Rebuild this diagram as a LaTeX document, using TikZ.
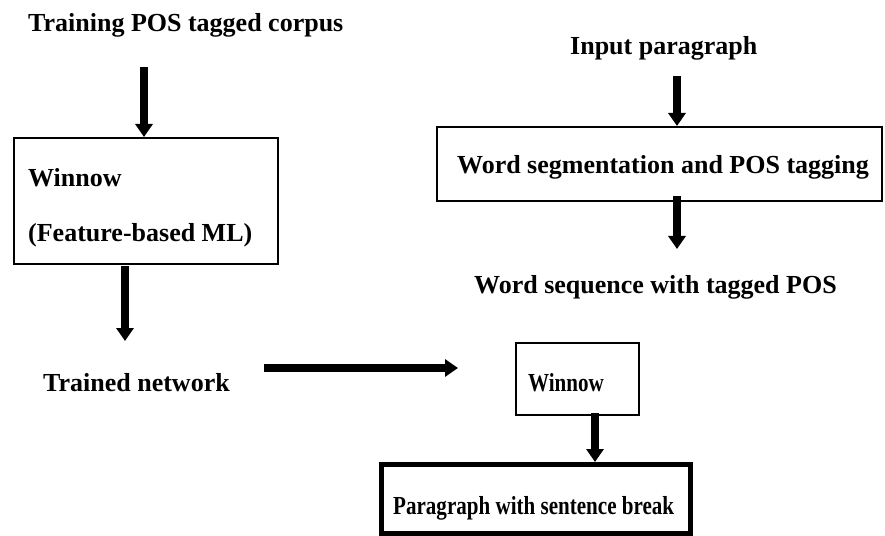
\documentclass[tikz,border=0pt]{standalone}
\usepackage{fontspec}
\usepackage{graphicx}
\setmainfont{Liberation Serif}
\usetikzlibrary{arrows.meta}
\begin{document}
\begin{tikzpicture}[x=1bp,y=-1bp,
  lbl/.style={anchor=base west,inner sep=0pt,font=\bfseries\fontsize{26bp}{30bp}\selectfont},
  box/.style={draw,line width=2bp,rectangle,inner sep=0pt},
  heavybox/.style={draw,line width=5bp,rectangle,inner sep=0pt},
  arr/.style={line width=7.5bp,-{Triangle[length=13bp,width=17bp]}}]
\useasboundingbox (0,0) rectangle (885,536);

% boxes
\node[box,minimum width=264bp,minimum height=126bp] (train) at (146,201) {};
\node[box,minimum width=445bp,minimum height=74bp] (seg) at (659.5,164) {};
\node[box,minimum width=123bp,minimum height=72bp] (win) at (577.5,379) {};
\node[heavybox,minimum width=308.5bp,minimum height=69bp] (out) at (535.75,499) {};

% labels
\node[lbl] (corpus) at (28,32) {Training POS tagged corpus};
\node[lbl] (wtrain) at (28,187) {Winnow};
\node[lbl] (feat) at (28,242) {(Feature-based ML)};
\node[lbl] (net) at (43,391) {Trained network};
\node[lbl] (input) at (570,55) {Input paragraph};
\node[lbl] (segtxt) at (457,174) {Word segmentation and POS tagging};
\node[lbl] (seq) at (474,294) {Word sequence with tagged POS};
\node[lbl] (wrun) at (528,391) {\scalebox{0.81}[1]{Winnow}};
\node[lbl] (outtxt) at (393,514) {\scalebox{0.81}[1]{Paragraph with sentence break}};

% arrow anchors
\coordinate (a1) at (144,67);
\coordinate (a2) at (125,266);
\coordinate (a2e) at (125,341);
\coordinate (a3) at (677,76);
\coordinate (a4) at (677,196);
\coordinate (a4e) at (677,249);
\coordinate (a5) at (595,413);
\coordinate (h1) at (264,368);
\coordinate (h2) at (458,368);

% connectors
\draw[arr] (a1) -- (a1 |- train.north);
\draw[arr] (a2) -- (a2e);
\draw[arr] (a3) -- (a3 |- seg.north);
\draw[arr] (a4) -- (a4e);
\draw[arr] (a5) -- (a5 |- out.north);
\draw[arr] (h1) -- (h2);
\end{tikzpicture}
\end{document}
